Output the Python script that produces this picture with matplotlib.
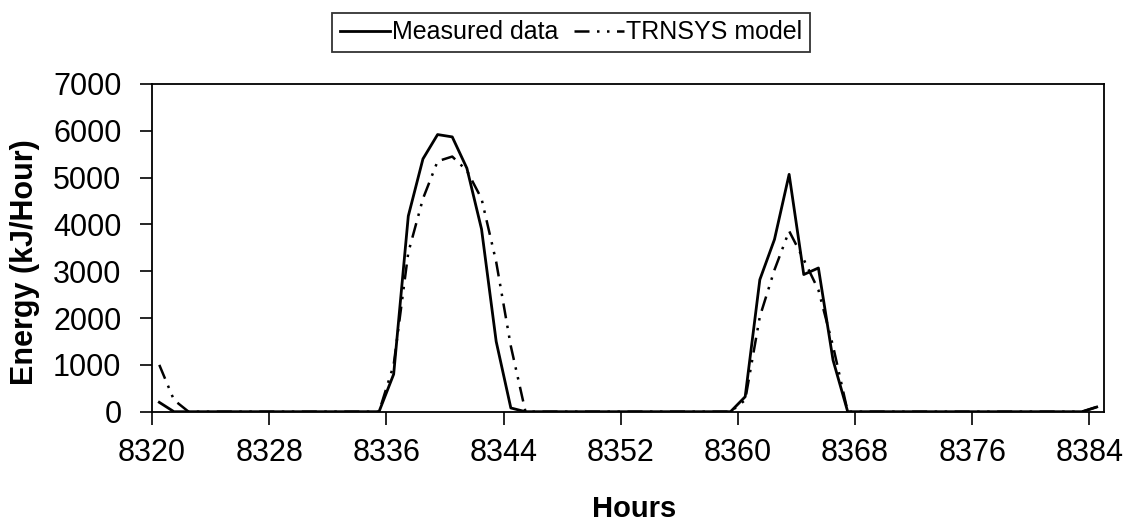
import numpy as np
import matplotlib
matplotlib.use("Agg")
import matplotlib.pyplot as plt

plt.rcParams['font.family'] = ['Liberation Sans', 'DejaVu Sans']

# hourly data, hour 8320 .. 8384
hours = np.arange(8320, 8385)

measured = [200, 0, 0, 0, 0, 0, 0, 0, 0, 0, 0, 0, 0, 0, 0, 0,
            800, 4180, 5400, 5920, 5870, 5200, 3900, 1500, 80, 0,
            0, 0, 0, 0, 0, 0, 0, 0, 0, 0, 0, 0, 0, 0,
            320, 2820, 3680, 5070, 2930, 3070, 1100, 0,
            0, 0, 0, 0, 0, 0, 0, 0, 0, 0, 0, 0, 0, 0, 0, 0, 100]

trnsys = [1000, 250, 0, 0, 0, 0, 0, 0, 0, 0, 0, 0, 0, 0, 0, 0,
          1000, 3400, 4550, 5350, 5450, 5150, 4550, 3200, 1400, 0,
          0, 0, 0, 0, 0, 0, 0, 0, 0, 0, 0, 0, 0, 0,
          250, 2030, 3030, 3860, 3250, 2600, 1400, 0,
          0, 0, 0, 0, 0, 0, 0, 0, 0, 0, 0, 0, 0, 0, 0, 0, 100]

xticks = np.arange(8320, 8385, 8)
yticks = np.arange(0, 7001, 1000)

fig = plt.figure(figsize=(11.41, 5.24), dpi=100)
ax = fig.add_axes([0.1332, 0.2143, 0.8344, 0.6254])

# values are hourly totals, drawn at the middle of each hour
ax.plot(hours + 0.5, measured, color='black', lw=2.0, label='Measured data')
ax.plot(hours + 0.5, trnsys, color='black', lw=1.8,
        linestyle=(0, (6, 3, 1, 3, 1, 3)), label='TRNSYS model')

ax.set_xlim(8320, 8385)
ax.set_ylim(0, 7000)
ax.set_xticks(xticks)
ax.set_yticks(yticks)
ax.tick_params(axis='both', direction='out', length=9, width=1.2,
               labelsize=22, colors='black')
ax.tick_params(axis='x', pad=10)
ax.tick_params(axis='y', pad=13)

for s in ax.spines.values():
    s.set_linewidth(1.3)
    s.set_color('black')

ax.set_xlabel('Hours', fontsize=21, fontweight='bold')
ax.set_ylabel('Energy (kJ/Hour)', fontsize=22, fontweight='bold')
ax.xaxis.set_label_coords(0.506, -0.255)
ax.yaxis.set_label_coords(-0.118, 0.455)

leg = ax.legend(loc='center', bbox_to_anchor=(0.5004, 0.938),
                bbox_transform=fig.transFigure, ncol=2, fontsize=18,
                frameon=True, fancybox=False, handlelength=2.0,
                columnspacing=0.6, handletextpad=0.1, borderpad=0.3)
leg.get_frame().set_edgecolor('black')
leg.get_frame().set_linewidth(1.3)

fig.savefig('out.png', dpi=100)
